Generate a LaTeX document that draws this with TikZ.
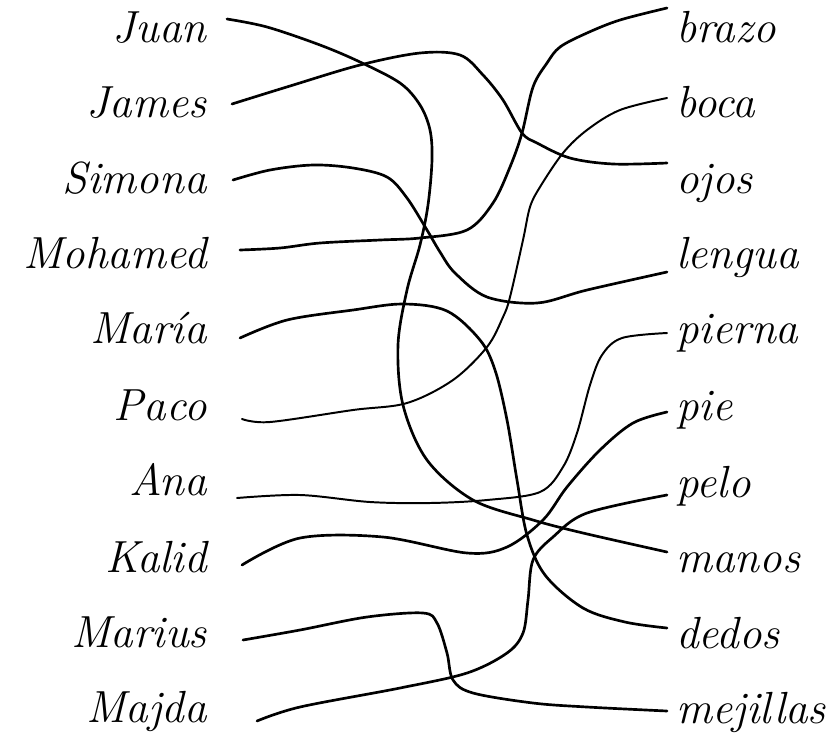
\documentclass[tikz,border=0pt]{standalone}
\usepackage{tikz}
\usetikzlibrary{positioning,calc}

\begin{document}
\begin{tikzpicture}[
    x=0.025cm, y=-0.025cm,
    kid/.style={anchor=base east, inner sep=0pt, font=\fontsize{32}{38}\selectfont\itshape},
    part/.style={anchor=base west, inner sep=0pt, font=\fontsize{32}{38}\selectfont\itshape},
    wire/.style={line width=1.9pt, line cap=round, line join=round}
]

\useasboundingbox (0,0) rectangle (840,745);

% Names
\node[kid] (juan) at (207,42) {Juan};
\node[kid] (james) at (207,117) {James};
\node[kid] (simona) at (207,193) {Simona};
\node[kid] (mohamed) at (207,268) {Mohamed};
\node[kid] (maria) at (207,343) {María};
\node[kid] (paco) at (207,420) {Paco};
\node[kid] (ana) at (207,495) {Ana};
\node[kid] (kalid) at (207,572) {Kalid};
\node[kid] (marius) at (207,647) {Marius};
\node[kid] (majda) at (207,722) {Majda};

% Words
\node[part] (brazo) at (676,42) {brazo};
\node[part] (boca) at (676,117) {boca};
\node[part] (ojos) at (676,193) {ojos};
\node[part] (lengua) at (676,268) {lengua};
\node[part] (pierna) at (676,343) {pierna};
\node[part] (pie) at (676,420) {pie};
\node[part] (pelo) at (676,497) {pelo};
\node[part] (manos) at (676,572) {manos};
\node[part] (dedos) at (676,648) {dedos};
\node[part] (mejillas) at (676,723) {mejillas};

% Line ends
\coordinate (juan-e) at (227,19);
\coordinate (james-e) at (232,104);
\coordinate (simona-e) at (233,180);
\coordinate (mohamed-e) at (240,250);
\coordinate (maria-e) at (240,338);
\coordinate (paco-e) at (242,419);
\coordinate (ana-e) at (237,498);
\coordinate (kalid-e) at (242,565);
\coordinate (marius-e) at (243,640);
\coordinate (majda-e) at (257,721);

\coordinate (brazo-w) at (667,8);
\coordinate (boca-w) at (667,98);
\coordinate (ojos-w) at (667,163);
\coordinate (lengua-w) at (667,272);
\coordinate (pierna-w) at (667,333);
\coordinate (pie-w) at (667,412);
\coordinate (pelo-w) at (667,495);
\coordinate (manos-w) at (667,552);
\coordinate (dedos-w) at (667,628);
\coordinate (mejillas-w) at (667,711);

% Lines
\draw[wire] plot[smooth, tension=0.55] coordinates {(juan-e) (267,27) (320,45) (360,62) (400,83) (420,105) (430,130) (432,160) (428,205) (420,245) (407,290) (398,345) (403,405) (427,460) (473,500) (533,520) (583,533) (manos-w)};
\draw[wire] plot[smooth, tension=0.55] coordinates {(james-e) (290,86) (360,65) (420,53) (460,55) (483,75) (503,100) (522,133) (537,143) (570,158) (613,164) (ojos-w)};
\draw[wire] plot[smooth, tension=0.55] coordinates {(simona-e) (270,170) (313,165) (353,168) (387,177) (407,198) (427,230) (440,252) (455,273) (487,297) (537,303) (587,290) (lengua-w)};
\draw[wire] plot[smooth, tension=0.55] coordinates {(mohamed-e) (280,248) (320,243) (380,240) (420,238) (467,230) (493,203) (510,167) (522,133) (533,87) (547,63) (560,47) (587,33) (620,20) (brazo-w)};
\draw[wire, line width=1.4pt] plot[smooth, tension=0.55] coordinates {(paco-e) (270,422) (353,410) (407,403) (453,380) (487,347) (503,317) (510,297) (523,240) (530,207) (540,187) (563,153) (587,130) (620,110) (boca-w)};
\draw[wire] plot[smooth, tension=0.55] coordinates {(maria-e) (287,320) (353,310) (403,304) (447,311) (480,340) (495,370) (507,420) (517,480) (527,535) (545,575) (583,608) (625,622) (dedos-w)};
\draw[wire, line width=1.4pt] plot[smooth, tension=0.55] coordinates {(ana-e) (300,495) (370,502) (430,503) (487,500) (540,492) (563,467) (577,433) (590,385) (602,355) (622,338) (pierna-w)};
\draw[wire] plot[smooth, tension=0.55] coordinates {(kalid-e) (300,538) (383,537) (467,553) (507,547) (543,520) (567,487) (600,450) (633,423) (pie-w)};
\draw[wire] plot[smooth, tension=0.55] coordinates {(marius-e) (300,630) (367,617) (423,613) (437,623) (447,653) (453,680) (473,693) (533,703) (587,707) (mejillas-w)};
\draw[wire] plot[smooth, tension=0.55] coordinates {(majda-e) (300,707) (400,688) (467,673) (507,653) (523,633) (528,600) (533,560) (553,537) (587,513) (pelo-w)};

\end{tikzpicture}
\end{document}
